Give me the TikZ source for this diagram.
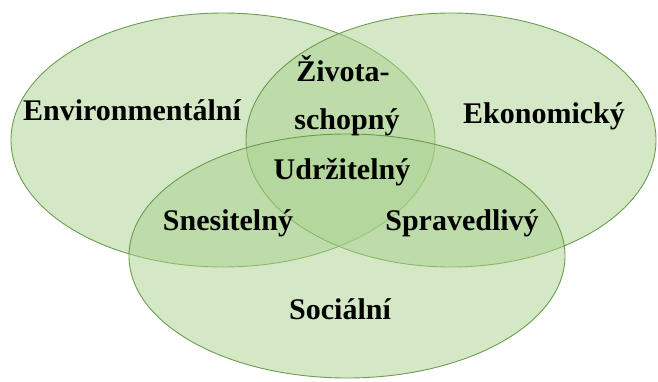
\documentclass[tikz,border=0pt]{standalone}
\usepackage{fontspec}
\setmainfont{Liberation Serif}
\definecolor{vfill}{HTML}{A9D18E}
\definecolor{vline}{HTML}{5E9440}
\tikzset{
  venn/.style={fill=vfill, fill opacity=0.5, draw=vline, draw opacity=0.9, line width=0.9pt},
  lbl/.style={font=\fontsize{30}{33}\selectfont\bfseries, text=black, anchor=base, inner sep=0pt}
}
\begin{document}
\begin{tikzpicture}[x=1pt,y=-1pt]
\useasboundingbox (0,0) rectangle (658,381);
\draw[venn] (223,140) ellipse [x radius=212, y radius=127];
\draw[venn] (451,140) ellipse [x radius=205, y radius=127];
\draw[venn] (347,256) ellipse [x radius=218, y radius=122];
\node[lbl] (env) at (132,120) {Environmentální};
\node[lbl] (eko) at (544,123) {Ekonomický};
\node[lbl] (ziv) at (343,81) {Života-};
\node[lbl] (sch) at (347,129) {schopný};
\node[lbl] (udr) at (342,179) {Udržitelný};
\node[lbl] (sne) at (228,230) {Snesitelný};
\node[lbl] (spr) at (462,230) {Spravedlivý};
\node[lbl] (soc) at (340,319) {Sociální};
\end{tikzpicture}
\end{document}
